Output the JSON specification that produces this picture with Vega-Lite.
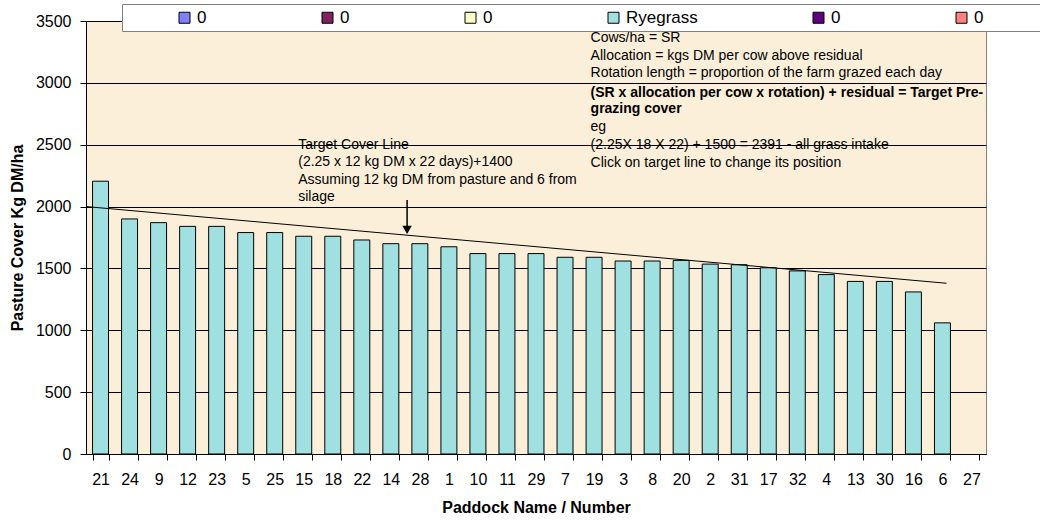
{
  "$schema": "https://vega.github.io/schema/vega-lite/v6.json",
  "width": 900,
  "height": 433,
  "autosize": {"type": "none"},
  "padding": {"left": 86, "top": 21, "right": 54, "bottom": 67},
  "background": "white",
  "config": {
    "font": "Liberation Sans",
    "view": {"fill": "#fbefd9", "stroke": "#808080", "strokeWidth": 1},
    "axisX": {
      "labelFontSize": 16, "labelColor": "black", "labelPadding": 11, "labelAngle": 0,
      "tickSize": 6, "tickColor": "black", "domainColor": "black",
      "titleFontSize": 16, "titleFontWeight": "bold", "titleColor": "black", "titlePadding": 12,
      "grid": false, "tickBand": "extent"
    },
    "axisY": {
      "labelFontSize": 16, "labelColor": "black", "labelPadding": 9,
      "tickSize": 6, "tickColor": "black", "domainColor": "black",
      "titleFontSize": 16, "titleFontWeight": "bold", "titleColor": "black", "titlePadding": 10,
      "grid": true, "gridColor": "black", "gridOpacity": 1, "gridWidth": 1
    }
  },
  "datasets": {
    "bars": [
      {"paddock": "21", "cover": 2205, "series": "Ryegrass"},
      {"paddock": "24", "cover": 1900, "series": "Ryegrass"},
      {"paddock": "9", "cover": 1870, "series": "Ryegrass"},
      {"paddock": "12", "cover": 1840, "series": "Ryegrass"},
      {"paddock": "23", "cover": 1840, "series": "Ryegrass"},
      {"paddock": "5", "cover": 1790, "series": "Ryegrass"},
      {"paddock": "25", "cover": 1790, "series": "Ryegrass"},
      {"paddock": "15", "cover": 1760, "series": "Ryegrass"},
      {"paddock": "18", "cover": 1760, "series": "Ryegrass"},
      {"paddock": "22", "cover": 1730, "series": "Ryegrass"},
      {"paddock": "14", "cover": 1700, "series": "Ryegrass"},
      {"paddock": "28", "cover": 1700, "series": "Ryegrass"},
      {"paddock": "1", "cover": 1675, "series": "Ryegrass"},
      {"paddock": "10", "cover": 1620, "series": "Ryegrass"},
      {"paddock": "11", "cover": 1620, "series": "Ryegrass"},
      {"paddock": "29", "cover": 1620, "series": "Ryegrass"},
      {"paddock": "7", "cover": 1590, "series": "Ryegrass"},
      {"paddock": "19", "cover": 1590, "series": "Ryegrass"},
      {"paddock": "3", "cover": 1560, "series": "Ryegrass"},
      {"paddock": "8", "cover": 1560, "series": "Ryegrass"},
      {"paddock": "20", "cover": 1565, "series": "Ryegrass"},
      {"paddock": "2", "cover": 1535, "series": "Ryegrass"},
      {"paddock": "31", "cover": 1530, "series": "Ryegrass"},
      {"paddock": "17", "cover": 1505, "series": "Ryegrass"},
      {"paddock": "32", "cover": 1480, "series": "Ryegrass"},
      {"paddock": "4", "cover": 1450, "series": "Ryegrass"},
      {"paddock": "13", "cover": 1395, "series": "Ryegrass"},
      {"paddock": "30", "cover": 1395, "series": "Ryegrass"},
      {"paddock": "16", "cover": 1310, "series": "Ryegrass"},
      {"paddock": "6", "cover": 1060, "series": "Ryegrass"},
      {"paddock": "27", "cover": null, "series": "Ryegrass"}
    ],
    "target": [
      {"pos": 0, "cover": 2000},
      {"pos": 29.64, "cover": 1380}
    ],
    "arrow": [
      {"pos": 11.06, "top": 2053, "tip": 1812}
    ],
    "notes": [
      {"pos": 7.31, "y": 2500, "text": "Target Cover Line", "kind": "plain"},
      {"pos": 7.31, "y": 2358, "text": "(2.25 x 12 kg DM x 22 days)+1400", "kind": "plain"},
      {"pos": 7.31, "y": 2213, "text": "Assuming 12 kg DM from pasture and 6 from", "kind": "plain"},
      {"pos": 7.31, "y": 2075, "text": "silage", "kind": "plain"},
      {"pos": 17.38, "y": 3360, "text": "Cows/ha = SR", "kind": "plain"},
      {"pos": 17.38, "y": 3217, "text": "Allocation = kgs DM per cow above residual", "kind": "plain"},
      {"pos": 17.38, "y": 3077, "text": "Rotation length = proportion of the farm grazed each day", "kind": "plain"},
      {"pos": 17.38, "y": 2921, "text": "(SR x allocation per cow x rotation) + residual = Target Pre-", "kind": "emphasis"},
      {"pos": 17.38, "y": 2786, "text": "grazing cover", "kind": "emphasis"},
      {"pos": 17.38, "y": 2641, "text": "eg", "kind": "plain"},
      {"pos": 17.38, "y": 2498, "text": "(2.25X 18 X 22) + 1500 = 2391 - all grass intake", "kind": "plain"},
      {"pos": 17.38, "y": 2355, "text": "Click on target line to change its position", "kind": "plain"}
    ]
  },
  "layer": [
    {
      "data": {"name": "bars"},
      "mark": {"type": "bar", "stroke": "black", "strokeWidth": 1},
      "encoding": {
        "x": {
          "field": "paddock", "type": "nominal", "sort": null,
          "scale": {
            "domain": ["21","24","9","12","23","5","25","15","18","22","14","28","1","10","11","29","7","19","3","8","20","2","31","17","32","4","13","30","16","6","27"],
            "paddingInner": 0.45, "paddingOuter": 0.225
          },
          "axis": {"title": "Paddock Name / Number"}
        },
        "y": {
          "field": "cover", "type": "quantitative", "title": "Pasture Cover Kg DM/ha",
          "scale": {"domain": [0, 3500], "nice": false},
          "axis": {"values": [0, 500, 1000, 1500, 2000, 2500, 3000, 3500], "format": "d"}
        },
        "color": {
          "field": "series", "type": "nominal",
          "scale": {
            "domain": ["s1", "s2", "s3", "Ryegrass", "s5", "s6", "s7"],
            "range": ["#8080ff", "#802060", "#ffffc8", "#a0e0e0", "#600080", "#ff8080", "#ffffff"]
          },
          "legend": {
            "orient": "none", "legendX": 36, "legendY": -17,
            "direction": "horizontal", "columns": 7, "title": null,
            "padding": 5, "fillColor": "white", "strokeColor": "#808080",
            "symbolType": "square", "symbolSize": 121,
            "symbolStrokeColor": "black", "symbolStrokeWidth": 1, "symbolOpacity": 1,
            "symbolOffset": 49, "labelOffset": 4, "columnPadding": 63,
            "labelFontSize": 17, "labelColor": "black", "labelLimit": 200,
            "labelExpr": "datum.value == 'Ryegrass' ? 'Ryegrass' : (datum.value == 's7' ? '' : '0')"
          }
        }
      }
    },
    {
      "data": {"name": "target"},
      "mark": {"type": "line", "color": "black", "strokeWidth": 1},
      "encoding": {
        "x": {"field": "pos", "type": "quantitative", "scale": {"domain": [0, 31], "nice": false, "zero": false}, "axis": null},
        "y": {"field": "cover", "type": "quantitative", "title": "Pasture Cover Kg DM/ha", "scale": {"domain": [0, 3500], "nice": false}}
      }
    },
    {
      "data": {"name": "arrow"},
      "mark": {"type": "rule", "color": "black", "strokeWidth": 1.5},
      "encoding": {
        "x": {"field": "pos", "type": "quantitative", "scale": {"domain": [0, 31], "nice": false, "zero": false}, "axis": null},
        "y": {"field": "top", "type": "quantitative", "title": "Pasture Cover Kg DM/ha", "scale": {"domain": [0, 3500], "nice": false}},
        "y2": {"field": "tip"}
      }
    },
    {
      "data": {"name": "arrow"},
      "mark": {"type": "point", "shape": "triangle-down", "filled": true, "color": "black", "opacity": 1, "size": 90},
      "encoding": {
        "x": {"field": "pos", "type": "quantitative", "scale": {"domain": [0, 31], "nice": false, "zero": false}, "axis": null},
        "y": {"field": "tip", "type": "quantitative", "title": "Pasture Cover Kg DM/ha", "scale": {"domain": [0, 3500], "nice": false}}
      }
    },
    {
      "data": {"name": "notes"},
      "transform": [{"filter": "datum.kind == 'plain'"}],
      "mark": {"type": "text", "align": "left", "baseline": "middle", "fontSize": 14, "color": "black"},
      "encoding": {
        "x": {"field": "pos", "type": "quantitative", "scale": {"domain": [0, 31], "nice": false, "zero": false}, "axis": null},
        "y": {"field": "y", "type": "quantitative", "title": "Pasture Cover Kg DM/ha", "scale": {"domain": [0, 3500], "nice": false}},
        "text": {"field": "text"}
      }
    },
    {
      "data": {"name": "notes"},
      "transform": [{"filter": "datum.kind == 'emphasis'"}],
      "mark": {"type": "text", "align": "left", "baseline": "middle", "fontSize": 14, "fontWeight": "bold", "color": "black"},
      "encoding": {
        "x": {"field": "pos", "type": "quantitative", "scale": {"domain": [0, 31], "nice": false, "zero": false}, "axis": null},
        "y": {"field": "y", "type": "quantitative", "title": "Pasture Cover Kg DM/ha", "scale": {"domain": [0, 3500], "nice": false}},
        "text": {"field": "text"}
      }
    }
  ],
  "resolve": {"scale": {"x": "independent"}}
}
